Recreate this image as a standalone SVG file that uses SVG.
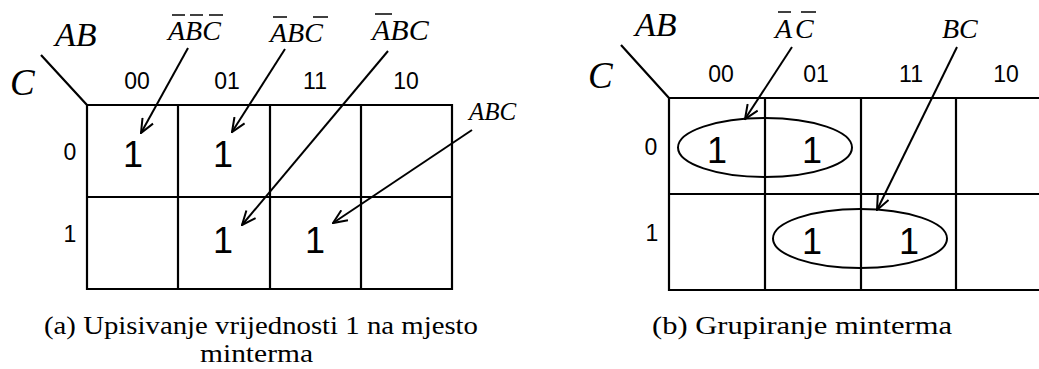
<svg xmlns="http://www.w3.org/2000/svg" width="1039" height="369" viewBox="0 0 1039 369">
<style>
.g{stroke:#000;stroke-width:2.2;fill:none}
.c{stroke:#000;stroke-width:2;fill:none}
.ob{stroke:#000;stroke-width:1.5}
.v{font-family:"Liberation Serif",serif;font-style:italic;fill:#000}
.h{font-family:"Liberation Sans",Arial,sans-serif;font-size:23px;fill:#000;text-anchor:middle}
.one{font-family:"Liberation Sans",Arial,sans-serif;font-size:36px;fill:#000;text-anchor:middle}
.cap{font-family:"Liberation Serif",serif;font-size:26px;fill:#000}
</style>
<defs>
<marker id="ah" viewBox="0 0 16 14" refX="15" refY="7" markerWidth="16" markerHeight="14" markerUnits="userSpaceOnUse" orient="auto">
<path d="M1,1 L15,7 L1,13" stroke="#000" stroke-width="2" fill="none"/>
</marker>
</defs>
<rect width="1039" height="369" fill="#fff"/>

<g id="mapA">
<path class="g" d="M87,105 H452 V289 H87 Z M178,105 V289 M270,105 V289 M361,105 V289 M87,197 H452 M41,55 L87,105"/>
<text class="v" x="55" y="46" font-size="34">AB</text>
<text class="v" x="10" y="95" font-size="37">C</text>
<text class="h" x="137" y="89">00</text>
<text class="h" x="227" y="89">01</text>
<text class="h" x="315" y="89">11</text>
<text class="h" x="406" y="89">10</text>
<text class="h" x="70" y="160">0</text>
<text class="h" x="70" y="242">1</text>
</g>
<g id="cellsA">
<text class="one" x="133" y="167">1</text>
<text class="one" x="223" y="167">1</text>
<text class="one" x="223" y="253">1</text>
<text class="one" x="315" y="253">1</text>
</g>
<g id="labelsA">
<text class="v" x="168" y="40" font-size="28">ABC</text>
<line class="ob" x1="172" y1="15" x2="185" y2="15"/>
<line class="ob" x1="190" y1="15" x2="203" y2="15"/>
<line class="ob" x1="209" y1="15" x2="223" y2="15"/>
<text class="v" x="270" y="42" font-size="28">ABC</text>
<line class="ob" x1="273" y1="17" x2="287" y2="17"/>
<line class="ob" x1="313" y1="17" x2="328" y2="17"/>
<text class="v" x="372" y="40" font-size="30">ABC</text>
<line class="ob" x1="375" y1="14" x2="392" y2="14"/>
<text class="v" x="469" y="120" font-size="25">ABC</text>
</g>

<g id="mapB">
<path class="g" d="M1045,98 H669 V290 H1045 M765,98 V290 M861,98 V290 M956,98 V290 M669,194 H1045 M621,45 L669,98"/>
<text class="v" x="635" y="36" font-size="34">AB</text>
<text class="v" x="588" y="88" font-size="37">C</text>
<text class="h" x="721" y="82">00</text>
<text class="h" x="816" y="82">01</text>
<text class="h" x="911" y="82">11</text>
<text class="h" x="1006" y="82">10</text>
<text class="h" x="651" y="155">0</text>
<text class="h" x="652" y="241">1</text>
</g>
<g id="cellsB">
<text class="one" x="717" y="163">1</text>
<text class="one" x="812" y="163">1</text>
<text class="one" x="812" y="254">1</text>
<text class="one" x="909" y="254">1</text>
<ellipse class="c" cx="765" cy="147.5" rx="87" ry="29.5"/>
<ellipse class="c" cx="860" cy="238.5" rx="87" ry="29.5"/>
</g>
<g id="labelsB">
<text class="v" x="775" y="38" font-size="28">A</text>
<text class="v" x="795" y="38" font-size="28">C</text>
<line class="ob" x1="778" y1="12" x2="791" y2="12"/>
<line class="ob" x1="801" y1="12" x2="816" y2="12"/>
<text class="v" x="942" y="38" font-size="28">BC</text>
</g>

<g id="connectors">
<line class="c" x1="188" y1="48" x2="141" y2="133" marker-end="url(#ah)"/>
<line class="c" x1="285" y1="49" x2="232" y2="132" marker-end="url(#ah)"/>
<line class="c" x1="388" y1="51" x2="242" y2="225" marker-end="url(#ah)"/>
<line class="c" x1="472" y1="130" x2="333" y2="223" marker-end="url(#ah)"/>
<line class="c" x1="792" y1="47" x2="745" y2="119" marker-end="url(#ah)"/>
<line class="c" x1="957" y1="47" x2="877" y2="210" marker-end="url(#ah)"/>
</g>

<g id="captions">
<text class="cap" x="44" y="334" textLength="434" lengthAdjust="spacingAndGlyphs">(a) Upisivanje vrijednosti 1 na mjesto</text>
<text class="cap" x="200" y="362" textLength="113" lengthAdjust="spacingAndGlyphs">minterma</text>
<text class="cap" x="652" y="334" textLength="300" lengthAdjust="spacingAndGlyphs">(b) Grupiranje minterma</text>
</g>
</svg>
